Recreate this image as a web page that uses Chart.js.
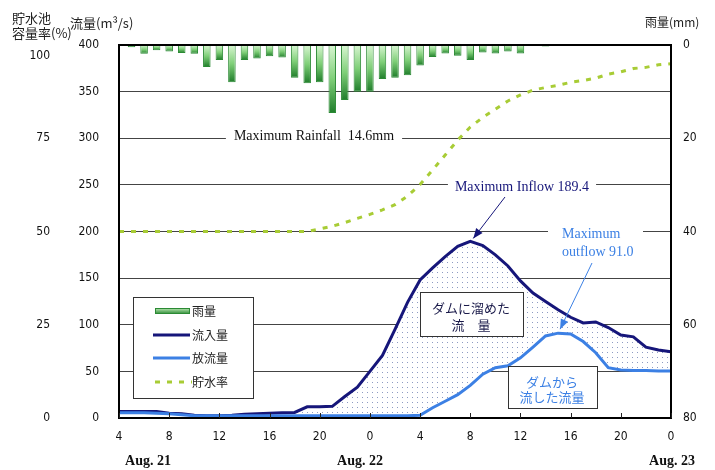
<!DOCTYPE html>
<html lang="ja">
<head>
<meta charset="utf-8">
<title>流量・雨量・貯水率</title>
<script src="https://cdn.jsdelivr.net/npm/chart.js"></script>
<style>
  html, body { margin: 0; padding: 0; background: #fff; }
</style>
</head>
<body>
<canvas id="dam-chart" width="715" height="470"></canvas>
<script>
// 時刻 (8/21 4時 = 4, 8/22 0時 = 24, 8/23 0時 = 48)
const hours = [4, 5, 6, 7, 8, 9, 10, 11, 12, 13, 14, 15, 16, 17, 18, 19, 20, 21, 22, 23,
  24, 25, 26, 27, 28, 29, 30, 31, 32, 33, 34, 35, 36, 37, 38, 39, 40, 41, 42, 43,
  44, 45, 46, 47, 48];

// 流入量 (m3/s)
const inflow = [7, 7, 7, 7, 5, 4.5, 3, 2.5, 2.5, 3, 4, 4.5, 5, 5.5, 6, 12, 12, 12.5, 23, 33,
  50, 67, 95, 124, 148, 161, 173, 184, 189.4, 185, 175, 163, 147, 134, 125, 116, 108, 102, 103, 97,
  89, 87, 76, 73, 71];

// 放流量 (m3/s)
const outflow = [5.5, 5.5, 5.5, 5, 4.5, 3.5, 2.5, 2.5, 2.5, 2.5, 2.5, 2.5, 2.5, 2.5, 2.5, 2.5, 2.5, 2.5, 2.5, 2.5,
  2.5, 2.5, 2.5, 2.5, 3, 11, 18, 25, 35, 47, 54, 56, 64.5, 76, 88, 91, 90, 82, 70, 54,
  51.5, 51, 51, 50.5, 50.5];

// 貯水率 (%)
const storage = [50, 50, 50, 50, 50, 50, 50, 50, 50, 50, 50, 50, 50, 50, 50, 50, 50.7, 51.4, 52.4, 53.5,
  54.6, 55.8, 57.2, 59.5, 62.6, 66.5, 70.5, 74.5, 78, 80.6, 82.8, 85, 86.6, 87.9, 88.6, 89.2, 90, 90.5, 91.1, 92.2,
  92.8, 93.7, 94, 94.7, 95];

// 雨量 (mm)
const rainHours = [5, 6, 7, 8, 9, 10, 11, 12, 13, 14, 15, 16, 17, 18, 19, 20, 21, 22, 23, 24,
  25, 26, 27, 28, 29, 30, 31, 32, 33, 34, 35, 36, 37, 38];
const rain = [0.5, 1.9, 1.1, 1.4, 1.7, 1.9, 4.7, 3.2, 8.0, 3.2, 2.9, 2.4, 2.7, 7.0, 8.2, 8.0, 14.6, 11.8, 10.0, 10.0,
  7.3, 7.0, 6.5, 4.4, 2.6, 1.8, 2.3, 3.2, 1.6, 1.8, 1.4, 1.8, null, 0.3];

const dayLabels = ['Aug. 21', 'Aug. 22', 'Aug. 23'];
const legendLabels = ['雨量', '流入量', '放流量', '貯水率'];

const C_IN = '#16167a';
const C_OUT = '#3c80e4';
const C_STO = '#a8cc35';
const C_RAIN = '#2b8a34';

const numFont = { family: '"Liberation Sans Narrow", "DejaVu Sans Condensed", "Liberation Sans", sans-serif', size: 12 };
const JP = '"Noto Sans CJK JP", sans-serif';
const SERIF = '"Liberation Serif", "DejaVu Serif", serif';

function dotPattern() {
  const c = document.createElement('canvas');
  c.width = 5; c.height = 5;
  const g = c.getContext('2d');
  g.fillStyle = '#fff';
  g.fillRect(0, 0, 5, 5);
  g.fillStyle = '#8d9bc2';
  g.fillRect(2, 2, 1, 1);
  return g.createPattern(c, 'repeat');
}

function rainFill(context) {
  const { chart, parsed } = context;
  if (!chart.chartArea || !parsed || parsed.y == null) return C_RAIN;
  const s = chart.scales.yRain;
  const top = s.getPixelForValue(0);
  const bot = s.getPixelForValue(parsed.y);
  if (bot - top < 2) return C_RAIN;
  const g = chart.ctx.createLinearGradient(0, top, 0, bot);
  g.addColorStop(0, '#d9f6d2');
  g.addColorStop(0.5, '#7fcf78');
  g.addColorStop(1, '#1f7d2a');
  return g;
}

function arrow(ctx, x1, y1, x2, y2, color) {
  ctx.strokeStyle = color;
  ctx.fillStyle = color;
  ctx.lineWidth = 1;
  ctx.beginPath();
  ctx.moveTo(x1, y1);
  ctx.lineTo(x2, y2);
  ctx.stroke();
  const ang = Math.atan2(y2 - y1, x2 - x1), L = 10, W = 4;
  ctx.beginPath();
  ctx.moveTo(x2, y2);
  ctx.lineTo(x2 - L * Math.cos(ang) + W * Math.sin(ang), y2 - L * Math.sin(ang) - W * Math.cos(ang));
  ctx.lineTo(x2 - L * Math.cos(ang) - W * Math.sin(ang), y2 - L * Math.sin(ang) + W * Math.cos(ang));
  ctx.closePath();
  ctx.fill();
}

function text(ctx, str, x, y, font, color, align) {
  ctx.font = font;
  ctx.fillStyle = color;
  ctx.textAlign = align || 'left';
  ctx.textBaseline = 'middle';
  ctx.fillText(str, x, y);
}

function whiteText(ctx, str, x, y, font, color, pad) {
  ctx.font = font;
  const w = ctx.measureText(str).width;
  ctx.fillStyle = '#fff';
  ctx.fillRect(x - w / 2 - pad, y - 8, w + pad * 2, 16);
  text(ctx, str, x, y, font, color, 'center');
}

function box(ctx, x, y, w, h) {
  ctx.fillStyle = '#fff';
  ctx.fillRect(x, y, w, h);
  ctx.strokeStyle = '#333';
  ctx.lineWidth = 1;
  ctx.strokeRect(x + 0.5, y + 0.5, w, h);
}

const overlay = {
  id: 'overlay',
  afterDraw(chart) {
    const { ctx, chartArea: a, scales } = chart;
    const sx = scales.x, sy = scales.y;
    ctx.save();

    // 枠
    ctx.strokeStyle = '#000';
    ctx.lineWidth = 2;
    ctx.strokeRect(a.left, a.top, a.right - a.left, a.bottom - a.top);

    // x 目盛り (内向き)
    ctx.lineWidth = 1;
    ctx.strokeStyle = '#222';
    sx.ticks.forEach(t => {
      const x = Math.round(sx.getPixelForValue(t.value)) + 0.5;
      ctx.beginPath();
      ctx.moveTo(x, a.bottom);
      ctx.lineTo(x, a.bottom - 5);
      ctx.stroke();
    });

    // 貯水率 100 のラベルは見出しを避けて少し下げる
    const sp = scales.yPct;
    ctx.font = numFont.size + 'px ' + numFont.family;
    text(ctx, '100', sp.right - 14, sp.getPixelForValue(100) + 11, ctx.font, '#111', 'right');

    // 注記
    const F = '14px ' + SERIF;
    whiteText(ctx, 'Maximum Rainfall  14.6mm', 314, 136, F, '#111', 8);
    whiteText(ctx, 'Maximum Inflow 189.4', 522, 187, F, C_IN, 7);
    arrow(ctx, 505, 197, sx.getPixelForValue(32) + 3, sy.getPixelForValue(189.4) - 3, C_IN);

    ctx.fillStyle = '#fff';
    ctx.fillRect(548, 226, 95, 16);
    text(ctx, 'Maximum', 562, 234, F, C_OUT);
    text(ctx, 'outflow 91.0', 562, 252, F, C_OUT);
    arrow(ctx, 592, 263, sx.getPixelForValue(39) + 2, sy.getPixelForValue(91) - 4, C_OUT);

    box(ctx, 420, 292, 103, 44);
    text(ctx, 'ダムに溜めた', 471, 308, '13px ' + JP, '#1a1a4a', 'center');
    text(ctx, '流　量', 471, 325, '13px ' + JP, '#1a1a4a', 'center');

    box(ctx, 508, 366, 89, 42);
    text(ctx, 'ダムから', 552, 382, '13px ' + JP, C_OUT, 'center');
    text(ctx, '流した流量', 552, 397, '13px ' + JP, C_OUT, 'center');

    // 凡例
    box(ctx, 133, 297, 120, 101);
    const ly = [311, 335, 358, 382];
    const rg = ctx.createLinearGradient(0, ly[0] - 3, 0, ly[0] + 3);
    rg.addColorStop(0, '#bfeab7');
    rg.addColorStop(1, '#2b8a34');
    ctx.fillStyle = rg;
    ctx.fillRect(155, ly[0] - 3, 35, 6);
    ctx.strokeStyle = C_RAIN;
    ctx.strokeRect(155.5, ly[0] - 2.5, 34, 5);
    ctx.lineWidth = 3;
    ctx.strokeStyle = C_IN;
    ctx.beginPath(); ctx.moveTo(153, ly[1]); ctx.lineTo(190, ly[1]); ctx.stroke();
    ctx.strokeStyle = C_OUT;
    ctx.beginPath(); ctx.moveTo(153, ly[2]); ctx.lineTo(190, ly[2]); ctx.stroke();
    ctx.strokeStyle = C_STO;
    ctx.setLineDash([5, 7]);
    ctx.beginPath(); ctx.moveTo(155, ly[3]); ctx.lineTo(192, ly[3]); ctx.stroke();
    ctx.setLineDash([]);
    legendLabels.forEach((s, i) => text(ctx, s, 192, ly[i], '12px ' + JP, '#222'));

    // 軸タイトル
    text(ctx, '貯水池', 12, 18, '13px ' + JP, '#222');
    text(ctx, '容量率(%)', 12, 33, '13px ' + JP, '#222');
    text(ctx, '流量(m³/s)', 70, 23, '13px ' + JP, '#222');
    text(ctx, '雨量(mm)', 645, 22, '12px ' + JP, '#222');

    // 日付
    const dx = [148, 360, 672];
    dayLabels.forEach((s, i) => text(ctx, s, dx[i], 461, 'bold 14px ' + SERIF, '#111', 'center'));

    ctx.restore();
  }
};

new Chart(document.getElementById('dam-chart'), {
  type: 'line',
  data: {
    datasets: [
      {
        type: 'bar',
        label: '雨量',
        data: rainHours.map((h, i) => ({ x: h, y: rain[i] })),
        yAxisID: 'yRain',
        backgroundColor: rainFill,
        borderColor: C_RAIN,
        borderWidth: 1,
        barPercentage: 0.6,
        categoryPercentage: 1,
        order: 4
      },
      {
        label: '流入量',
        data: hours.map((h, i) => ({ x: h, y: inflow[i] })),
        yAxisID: 'y',
        borderColor: C_IN,
        borderWidth: 3,
        pointRadius: 0,
        tension: 0,
        fill: '+1',
        backgroundColor: dotPattern(),
        order: 2
      },
      {
        label: '放流量',
        data: hours.map((h, i) => ({ x: h, y: outflow[i] })),
        yAxisID: 'y',
        borderColor: C_OUT,
        borderWidth: 3,
        pointRadius: 0,
        tension: 0,
        fill: false,
        order: 1
      },
      {
        label: '貯水率',
        data: hours.map((h, i) => ({ x: h, y: storage[i] })),
        yAxisID: 'yPct',
        borderColor: C_STO,
        borderWidth: 3,
        borderDash: [5, 7],
        pointRadius: 0,
        tension: 0,
        fill: false,
        order: 3
      }
    ]
  },
  options: {
    responsive: false,
    animation: false,
    layout: { padding: { top: 45, left: 0, right: 0, bottom: 0 } },
    plugins: {
      legend: { display: false },
      tooltip: { enabled: false }
    },
    scales: {
      x: {
        type: 'linear',
        min: 4,
        max: 48,
        offset: false,
        grid: { display: false, drawTicks: false, offset: false },
        border: { display: false },
        ticks: {
          stepSize: 4,
          padding: 12,
          autoSkip: false,
          maxRotation: 0,
          color: '#111',
          font: numFont,
          callback: v => String(v % 24)
        },
        afterFit: s => { s.height = 52; }
      },
      y: {
        position: 'left',
        weight: 0,
        min: 0,
        max: 400,
        grid: { color: '#444', lineWidth: 1, drawTicks: false },
        border: { display: false },
        ticks: { stepSize: 50, padding: 20, color: '#111', font: numFont },
        afterFit: s => { s.width = 55; }
      },
      yPct: {
        position: 'left',
        weight: 1,
        min: 0,
        max: 100,
        grid: { display: false, drawTicks: false },
        border: { display: false },
        ticks: {
          stepSize: 25,
          padding: 14,
          color: '#111',
          font: numFont,
          callback: v => (v === 100 ? '' : String(v))
        },
        afterFit: s => { s.width = 64; }
      },
      yRain: {
        position: 'right',
        reverse: true,
        min: 0,
        max: 80,
        grid: { display: false, drawTicks: false },
        border: { display: false },
        ticks: { stepSize: 20, padding: 12, color: '#111', font: numFont },
        afterFit: s => { s.width = 44; }
      }
    }
  },
  plugins: [overlay]
});
</script>
</body>
</html>
